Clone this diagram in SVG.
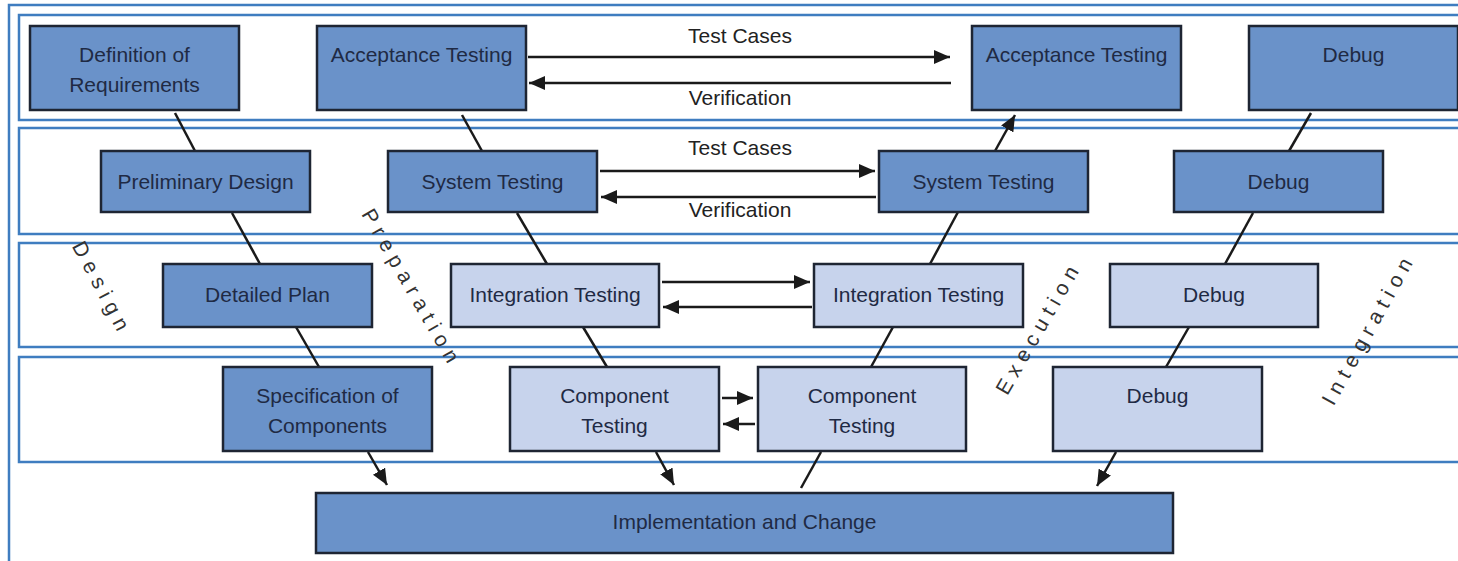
<svg xmlns="http://www.w3.org/2000/svg" width="1458" height="561" viewBox="0 0 1458 561">
<style>
.band{fill:#ffffff;stroke:#3f7dc0;stroke-width:2.5}
.dark{fill:#6a92c9;stroke:#1e2533;stroke-width:2.5}
.light{fill:#c7d3ec;stroke:#1e2533;stroke-width:2.5}
.t{font-family:"Liberation Sans",Arial,sans-serif;font-size:21px;fill:#1f2a44;text-anchor:middle}
.lbl{font-family:"Liberation Sans",Arial,sans-serif;font-size:21px;fill:#222;text-anchor:middle}
.rot{font-family:"Liberation Sans",Arial,sans-serif;font-size:21px;fill:#333;text-anchor:middle;letter-spacing:6.5px}
.c{stroke:#1a1a1a;stroke-width:2.5;fill:none}
.a{stroke:#1a1a1a;stroke-width:2.5;fill:none;marker-end:url(#ah)}
</style>
<defs>
<marker id="ah" markerUnits="userSpaceOnUse" markerWidth="17" markerHeight="15" refX="16" refY="7" orient="auto">
<path d="M0,0 L16,7 L0,14 z" fill="#1a1a1a"/>
</marker>
</defs>
<rect width="1458" height="561" fill="#ffffff"/>
<g id="frame">
<rect x="9" y="5" width="1470" height="580" fill="none" stroke="#3f7dc0" stroke-width="2.5"/>
<rect class="band" x="19" y="15" width="1460" height="105"/>
<rect class="band" x="19" y="128" width="1460" height="106"/>
<rect class="band" x="19" y="243" width="1460" height="104"/>
<rect class="band" x="19" y="357" width="1460" height="105"/>
</g>
<g id="phase-labels">
<text class="rot" transform="translate(96,292) rotate(62)">Design</text>
<text class="rot" transform="translate(406,292) rotate(60)">Preparation</text>
<text class="rot" transform="translate(1045,331) rotate(-60)">Execution</text>
<text class="rot" transform="translate(1375,332) rotate(-61)">Integration</text>
</g>
<g id="connectors">
<line class="c" x1="175" y1="113" x2="195" y2="151"/>
<line class="c" x1="232" y1="213" x2="260" y2="264"/>
<line class="c" x1="296" y1="327" x2="319" y2="367"/>
<line class="a" x1="368" y1="452" x2="387" y2="485"/>
<line class="c" x1="462" y1="115" x2="482" y2="151"/>
<line class="c" x1="517" y1="213" x2="547" y2="264"/>
<line class="c" x1="583" y1="327" x2="607" y2="367"/>
<line class="a" x1="656" y1="452" x2="674" y2="485"/>
<line class="c" x1="801" y1="488" x2="821" y2="452"/>
<line class="c" x1="871" y1="367" x2="893" y2="327"/>
<line class="c" x1="930" y1="264" x2="958" y2="212"/>
<line class="a" x1="995" y1="151" x2="1015" y2="115"/>
<line class="c" x1="1311" y1="113" x2="1289" y2="151"/>
<line class="c" x1="1253" y1="213" x2="1225" y2="264"/>
<line class="c" x1="1189" y1="327" x2="1166" y2="367"/>
<line class="a" x1="1116" y1="452" x2="1097" y2="486"/>
<line class="a" x1="528" y1="57" x2="950" y2="57"/>
<line class="a" x1="951" y1="83" x2="529" y2="83"/>
<line class="a" x1="600" y1="171" x2="875" y2="171"/>
<line class="a" x1="876" y1="197" x2="601" y2="197"/>
<line class="a" x1="662" y1="282" x2="810" y2="282"/>
<line class="a" x1="812" y1="307" x2="663" y2="307"/>
<line class="a" x1="722" y1="398" x2="753" y2="398"/>
<line class="a" x1="755" y1="424" x2="723" y2="424"/>
<text class="lbl" x="740" y="43">Test Cases</text>
<text class="lbl" x="740" y="105">Verification</text>
<text class="lbl" x="740" y="155">Test Cases</text>
<text class="lbl" x="740" y="217">Verification</text>
</g>
<g id="def-req"><rect class="dark" x="30" y="26" width="209" height="84"/><text class="t" x="134.5" y="62">Definition of</text><text class="t" x="134.5" y="92">Requirements</text></g>
<g id="acc-test-1"><rect class="dark" x="317" y="26" width="209" height="84"/><text class="t" x="421.5" y="62">Acceptance Testing</text></g>
<g id="acc-test-2"><rect class="dark" x="972" y="26" width="209" height="84"/><text class="t" x="1076.5" y="62">Acceptance Testing</text></g>
<g id="debug-1"><rect class="dark" x="1249" y="26" width="209" height="84"/><text class="t" x="1353.5" y="62">Debug</text></g>
<g id="prelim-design"><rect class="dark" x="101" y="151" width="209" height="61"/><text class="t" x="205.5" y="189">Preliminary Design</text></g>
<g id="sys-test-1"><rect class="dark" x="388" y="151" width="209" height="61"/><text class="t" x="492.5" y="189">System Testing</text></g>
<g id="sys-test-2"><rect class="dark" x="879" y="151" width="209" height="61"/><text class="t" x="983.5" y="189">System Testing</text></g>
<g id="debug-2"><rect class="dark" x="1174" y="151" width="209" height="61"/><text class="t" x="1278.5" y="189">Debug</text></g>
<g id="detailed-plan"><rect class="dark" x="163" y="264" width="209" height="63"/><text class="t" x="267.5" y="302">Detailed Plan</text></g>
<g id="int-test-1"><rect class="light" x="451" y="264" width="208" height="63"/><text class="t" x="555" y="302">Integration Testing</text></g>
<g id="int-test-2"><rect class="light" x="814" y="264" width="209" height="63"/><text class="t" x="918.5" y="302">Integration Testing</text></g>
<g id="debug-3"><rect class="light" x="1110" y="264" width="208" height="63"/><text class="t" x="1214" y="302">Debug</text></g>
<g id="spec-comp"><rect class="dark" x="223" y="367" width="209" height="84"/><text class="t" x="327.5" y="403">Specification of</text><text class="t" x="327.5" y="433">Components</text></g>
<g id="comp-test-1"><rect class="light" x="510" y="367" width="209" height="84"/><text class="t" x="614.5" y="403">Component</text><text class="t" x="614.5" y="433">Testing</text></g>
<g id="comp-test-2"><rect class="light" x="758" y="367" width="208" height="84"/><text class="t" x="862" y="403">Component</text><text class="t" x="862" y="433">Testing</text></g>
<g id="debug-4"><rect class="light" x="1053" y="367" width="209" height="84"/><text class="t" x="1157.5" y="403">Debug</text></g>
<g id="impl-change"><rect class="dark" x="316" y="493" width="857" height="60"/><text class="t" x="744.5" y="529">Implementation and Change</text></g>
</svg>
